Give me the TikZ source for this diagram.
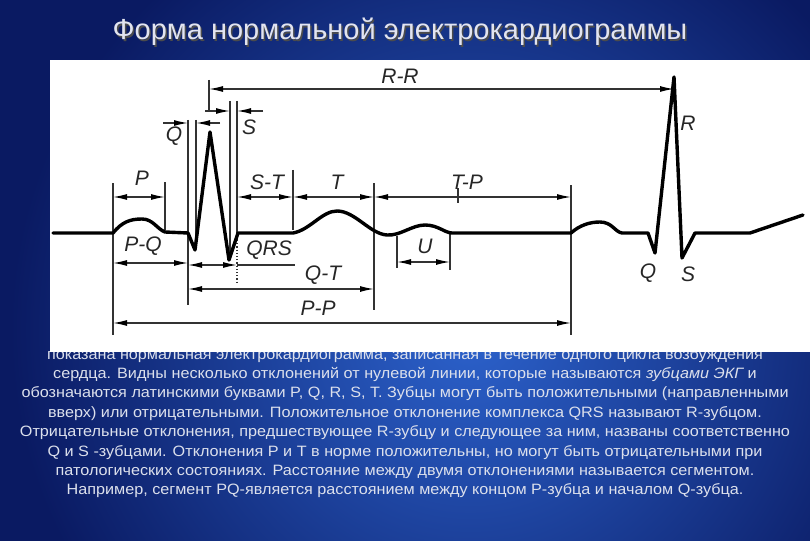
\documentclass[tikz,border=0pt]{standalone}
\usepackage{fontspec}
\setmainfont{Liberation Sans}
\newfontfamily\bodyfont[FakeStretch=1.08]{Liberation Sans}
\usetikzlibrary{arrows.meta}
\definecolor{bgout}{HTML}{0A1A62}
\definecolor{bgin}{HTML}{2C62CC}
\definecolor{titlec}{HTML}{E2E4F0}
\definecolor{bodyc}{HTML}{DCE0EC}
\definecolor{dimc}{HTML}{333333}
\tikzset{
  tip/.tip={Latex[length=14pt,width=6pt,black]},
  wave/.style={line width=3.4pt, line join=round, line cap=round, black},
  ext/.style={line width=1.2pt, dimc},
  dim/.style={line width=1.3pt, dimc, tip-tip},
  dimr/.style={line width=1.4pt, dimc, -tip},
  lab/.style={font=\fontsize{21}{21}\selectfont\itshape, text=black!85, inner sep=0pt},
}
\begin{document}
\begin{tikzpicture}[x=1pt,y=-1pt]
\useasboundingbox (0,0) rectangle (810,540);
% background
\fill[bgout] (-5,-5) rectangle (815,545);
\begin{scope}
\clip (-5,-5) rectangle (815,545);
\shade[inner color=bgin, outer color=bgout] (470,330) circle (460pt);
\end{scope}
% title
\node[text=black!70, font=\fontsize{29}{29}\selectfont] at (401.5,33.5) {Форма нормальной электрокардиограммы};
\node (title) [text=titlec, font=\fontsize{29}{29}\selectfont] at (400,32) {Форма нормальной электрокардиограммы};
% body text
\node (body) [text=bodyc, align=center, inner sep=0pt, font=\bodyfont\fontsize{15}{19.4}\selectfont] at (405,423) {%
показана нормальная электрокардиограмма, записанная в течение одного цикла возбуждения\\
сердца. Видны несколько отклонений от нулевой линии, которые называются {\itshape зубцами ЭКГ} и\\
обозначаются латинскими буквами P, Q, R, S, T. Зубцы могут быть положительными (направленными\\
вверх) или отрицательными. Положительное отклонение комплекса QRS называют R-зубцом.\\
Отрицательные отклонения, предшествующее R-зубцу и следующее за ним, названы соответственно\\
Q и S -зубцами. Отклонения P и T в норме положительны, но могут быть отрицательными при\\
патологических состояниях. Расстояние между двумя отклонениями называется сегментом.\\
Например, сегмент PQ-является расстоянием между концом P-зубца и началом Q-зубца.};
% white panel
\fill[white] (50,60) rectangle (810,352);
% extension lines
\draw[ext] (113,183) -- (113,335);
\draw[ext] (165,182) -- (165,230);
\draw[ext] (188,120) -- (188,305);
\draw[ext] (196,120) -- (196,248);
\draw[ext] (209,80) -- (209,110);
\draw[ext] (230,101) -- (230,256);
\draw[ext] (237,101) -- (237,240);
\draw[ext, dotted] (237,240) -- (237,283);
\draw[ext] (293,170) -- (293,230);
\draw[ext] (374,183) -- (374,310);
\draw[ext] (397,236) -- (397,268);
\draw[ext] (450,233) -- (450,270);
\draw[ext] (571,185) -- (571,335);
\draw[line width=2.4pt, dimc] (458,188) -- (458,203);
% dimension lines
\draw[dim] (113,197) -- (165,197);
\draw[dim] (113,263) -- (188,263);
\draw[dimr] (163,123) -- (188,123);
\draw[dimr] (220,123) -- (196,123);
\draw[dimr] (205,111) -- (230,111);
\draw[dimr] (263,111) -- (237,111);
\draw[dim] (209,89) -- (674,89);
\draw[dim] (237,197) -- (293,197);
\draw[dim] (293,197) -- (374,197);
\draw[dim] (374,197) -- (571,197);
\draw[dim] (188,265) -- (237,265);
\draw[ext] (237,265) -- (295,265);
\draw[dim] (397,262) -- (450,262);
\draw[dim] (188,289) -- (374,289);
\draw[dim] (113,323) -- (571,323);
% ECG curve
\draw[wave] (53,233) -- (113,233)
  .. controls (122,222) and (130,219) .. (142,219)
  .. controls (153,219) and (157,229) .. (165,232)
  -- (188,233) -- (195,250) -- (210,132) -- (229,260) -- (238,233) -- (293,233)
  .. controls (310,230) and (322,211) .. (337,211)
  .. controls (355,211) and (370,234) .. (387,235)
  .. controls (400,236) and (412,225) .. (425,225)
  .. controls (438,225) and (445,233) .. (452,233)
  -- (571,233)
  .. controls (580,225) and (590,222) .. (600,222)
  .. controls (612,222) and (615,232) .. (622,233)
  -- (648,233) -- (655,253) -- (674,77) -- (682,258) -- (695,233) -- (750,233) -- (803,215);
% labels
\node (lRR) [lab] at (400,76) {R-R};
\node (lQ) [lab] at (174,136) {Q};
\node (lS) [lab] at (249,127) {S};
\node (lR) [lab] at (688,123) {R};
\node (lP) [lab] at (142,178) {P};
\node (lST) [lab] at (267,182) {S-T};
\node (lT) [lab] at (337,182) {T};
\node (lTP) [lab] at (467,182) {T-P};
\node (lPQ) [lab] at (143,246) {P-Q};
\node (lQRS) [lab] at (269,250) {QRS};
\node (lU) [lab] at (425,246) {U};
\node (lQT) [lab] at (323,275) {Q-T};
\node (lPP) [lab] at (318,308) {P-P};
\node (lQ2) [lab] at (648,273) {Q};
\node (lS2) [lab] at (688,274) {S};
\end{tikzpicture}
\end{document}
